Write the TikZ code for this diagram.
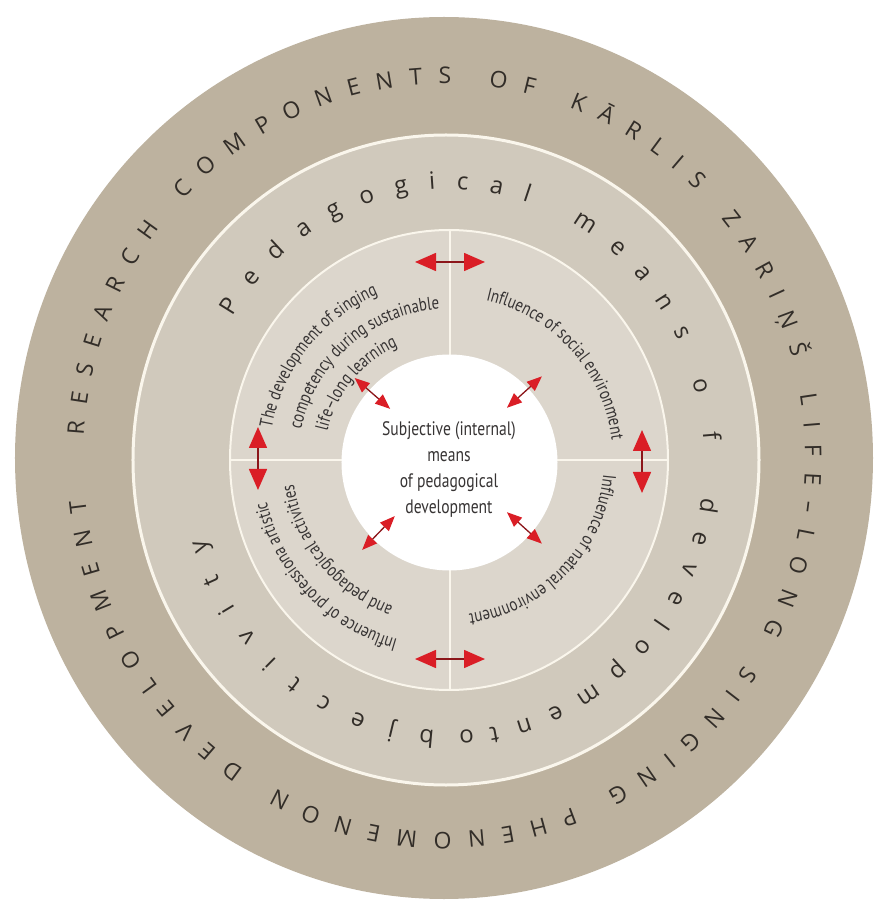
\documentclass[tikz,border=0pt]{standalone}
\usepackage{fontspec}
\usetikzlibrary{arrows.meta,decorations.text}

\newfontfamily\ringsans{Open Sans}
\newfontfamily\narrowsans[FakeStretch=0.8]{PT Sans}

\definecolor{outertan}{RGB}{189,178,159}
\definecolor{midtan}{RGB}{208,201,188}
\definecolor{innertan}{RGB}{220,214,204}
\definecolor{creamline}{RGB}{250,246,236}
\definecolor{ringink}{RGB}{50,45,40}
\definecolor{hubink}{RGB}{55,52,52}
\definecolor{arrowred}{RGB}{218,30,38}
\definecolor{shaftred}{RGB}{140,22,26}

\newcommand\outerletters{\ringsans\fontsize{23}{26}\selectfont}
\newcommand\midletters{\ringsans\fontsize{24}{28}\selectfont}
\newcommand\quadletters{\narrowsans\fontsize{18.5}{22}\selectfont}

\tikzset{
  outerword/.style={decorate, decoration={text along path, text align=fit to path, text color=ringink, text={|\outerletters|#1}}},
  ringword/.style={decorate, decoration={text along path, text align=fit to path, text color=ringink, text={|\midletters|#1}}},
  quadline/.style={decorate, decoration={text along path, text align=center, text color=hubink, text={|\quadletters|#1}}},
  duplex/.style={{Triangle[length=21pt,width=18pt,color=arrowred]}-{Triangle[length=21pt,width=18pt,color=arrowred]}, draw=shaftred, line width=1.6pt},
  smallduplex/.style={{Triangle[length=15pt,width=12pt,color=arrowred]}-{Triangle[length=15pt,width=12pt,color=arrowred]}, draw=shaftred, line width=1.3pt}
}

\begin{document}
\begin{tikzpicture}[x=1pt,y=1pt]
  \useasboundingbox (-449,-450) rectangle (429,460);

  \fill[outertan] (-5,2) ellipse [x radius=429, y radius=441];
  \filldraw[fill=midtan, draw=creamline, line width=3pt] (-3,0) ellipse [x radius=313, y radius=325];
  \filldraw[fill=innertan, draw=creamline, line width=2pt] (0,0) ellipse [x radius=219, y radius=230];
  \draw[creamline, line width=2pt] (1,230) -- (1,-230) (-219,0) -- (219,0);
  \fill[white] (0.5,-2.5) circle [radius=108];

  \begin{scope}[shift={(-5,2)}]
    \path[outerword={RESEARCH COMPONENTS OF KĀRLIS ZARIŅŠ LIFE–LONG SINGING PHENOMENON DEVELOPMENT}]
      (176.5:361 and 374) arc [start angle=176.5, end angle=-173.5, x radius=361, y radius=374];
  \end{scope}

  \path[ringword={Pedagogical}] (148:255 and 271) arc [start angle=148, end angle=72, x radius=255, y radius=271];
  \path[ringword={means}] (61:255 and 271) arc [start angle=61, end angle=26, x radius=255, y radius=271];
  \path[ringword={of}] (17:255 and 271) arc [start angle=17, end angle=4, x radius=255, y radius=271];
  \path[ringword={development}] (-8:255 and 271) arc [start angle=-8, end angle=-81, x radius=255, y radius=271];
  \path[ringword={objectivity}] (-84.5:255 and 271) arc [start angle=-84.5, end angle=-163, x radius=255, y radius=271];

  \path[quadline={The development of singing}] (191.5:180) arc [start angle=191.5, end angle=91.5, radius=180];
  \path[quadline={competency during sustainable}] (186:151) arc [start angle=186, end angle=76, radius=151];
  \path[quadline={life–long learning}] (190.5:125) arc [start angle=190.5, end angle=90.5, radius=125];
  \path[quadline={Influence of social environment}] (97:164) arc [start angle=97, end angle=-13, radius=164];
  \path[quadline={Influence of natural environment}] (11:155) arc [start angle=11, end angle=-99, radius=155];
  \path[quadline={Influence of professiona artistic}] (278.5:187) arc [start angle=278.5, end angle=168.5, radius=187];
  \path[quadline={and pedagogical activities}] (274:157) arc [start angle=274, end angle=164, radius=157];

  \node[align=center, text=hubink, font=\narrowsans\fontsize{19.5}{26}\selectfont] (hub) at (0,-10)
    {Subjective (internal)\\means\\of pedagogical\\development};

  \coordinate (top west) at (-34,198);
  \coordinate (top east) at (36,198);
  \coordinate (bottom west) at (-34,-199);
  \coordinate (bottom east) at (36,-199);
  \coordinate (left north) at (-191,33);
  \coordinate (left south) at (-191,-30);
  \coordinate (right north) at (193,30);
  \coordinate (right south) at (193,-33);
  \draw[duplex] (top west) -- (top east);
  \draw[duplex] (bottom west) -- (bottom east);
  \draw[duplex] (left north) -- (left south);
  \draw[duplex] (right north) -- (right south);

  \foreach \n/\a in {ne/42, nw/139, sw/226, se/318}{
    \coordinate (\n in) at (\a:78);
    \coordinate (\n out) at (\a:125);
    \draw[smallduplex] (\n in) -- (\n out);
  }
\end{tikzpicture}
\end{document}
